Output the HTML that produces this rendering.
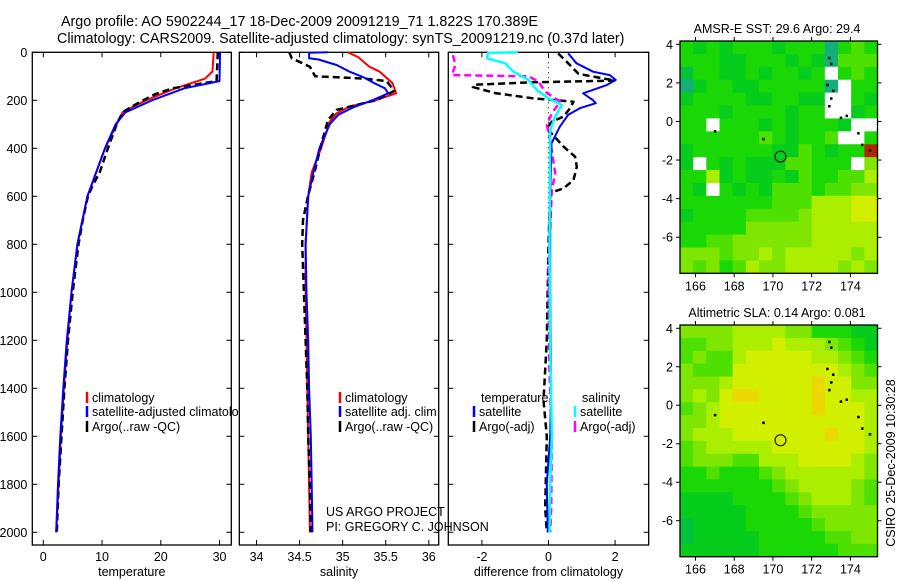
<!DOCTYPE html>
<html><head><meta charset="utf-8"><style>
body{margin:0;background:#fff;}
svg{display:block;font-family:"Liberation Sans",sans-serif;}
text{font-size:12.5px;fill:#000;}
text.ttl{font-size:14.3px;}
</style></head><body>
<svg id="fig" width="900" height="580" viewBox="0 0 900 580">
<defs><clipPath id="clip1"><rect x="32" y="52" width="207" height="494"/></clipPath></defs>
<text class="ttl" x="61" y="26">Argo profile: AO 5902244_17 18-Dec-2009 20091219_71 1.822S 170.389E</text>
<text class="ttl" x="57" y="43">Climatology: CARS2009. Satellite-adjusted climatology: synTS_20091219.nc (0.37d later)</text>
</svg>
<script>
// ---- temperature panel data ----
const tClimDepth=[0,80,110,150,200,230,250,300,400,500,600,800,1000,1200,1400,1600,1800,2000];
const tClimVal=[29.0,28.8,27.5,22.5,17.5,15,13.5,12.5,10.5,9,7.5,5.8,4.8,4.1,3.5,3.0,2.6,2.2];
const tSatDepth=[0,120,150,200,250,300,400,500,600,800,1000,1200,1400,1600,1800,2000];
const tSatVal=[30.1,30.0,24,18.5,14,12.3,10.5,9,7.5,5.8,4.8,4.0,3.4,2.9,2.5,2.2];
const tArgoDepth=[0,120,130,150,175,200,220,250,300,400,500,560,600,700,800,1000,1200,1400,1600,1800,2000];
const tArgoVal=[29.7,29.5,27,22,19,17,15.5,13.5,12.5,11,9.6,8.3,7.6,6.7,6.0,5.0,4.2,3.6,3.1,2.6,2.3];
// ---- salinity panel data ----
const sClimDepth=[0,20,60,81,129,171,199,226,254,289,400,500,600,800,1000,1200,1400,1600,1800,2000];
const sClimVal=[35.06,35.18,35.31,35.43,35.58,35.62,35.39,35.08,34.93,34.85,34.75,34.64,34.6,34.57,34.57,34.58,34.59,34.6,34.61,34.62];
const sSatDepth=[0,2,25,30,53,81,102,129,150,171,199,230,260,300,400,500,600,800,1000,1200,1400,1600,1800,2000];
const sSatVal=[34.83,34.61,34.61,34.72,34.93,35.08,35.23,35.37,35.49,35.53,35.35,35.12,34.95,34.85,34.73,34.66,34.6,34.57,34.58,34.6,34.61,34.63,34.64,34.65];
const sArgoDepth=[0,25,60,100,103,110,120,161,199,240,282,386,490,595,699,800,1000,1200,1400,1600,1800,2000];
const sArgoVal=[34.38,34.41,34.62,34.68,34.88,35.27,35.51,35.6,35.39,34.93,34.83,34.75,34.68,34.6,34.54,34.53,34.55,34.57,34.59,34.6,34.62,34.63];
// ---- difference panel data ----
const dTSatDepth=[4,46,81,95,115,137,171,199,212,233,261,310,379,600,1000,1400,1600,1800,2000];
const dTSatVal=[0.59,0.84,1.34,1.84,2.02,1.74,1.04,1.33,1.42,0.94,0.59,0.34,0.09,0.05,0.05,0.08,0.05,-0.05,-0.02];
const dTArgoDepth=[5,40,90,118,125,135,145,170,192,206,233,268,289,316,393,435,477,532,567,586,800,1200,1450,1600,1900,2000];
const dTArgoVal=[0.29,0.55,0.9,2.0,-0.5,-2.2,-2.27,-1.6,-0.45,0.75,0.65,0.45,0.1,-0.05,0.45,0.8,0.85,0.75,0.45,0.05,0.0,-0.05,-0.15,-0.05,-0.1,-0.05];
const dSSatDepth=[0,2,25,46,81,115,157,192,220,268,324,800,1200,1600,1800,2000];
const dSSatVal=[-0.92,-1.81,-1.85,-1.3,-1.05,-0.6,-0.35,0.0,0.4,0.2,0.05,0.03,0.05,0.1,0.05,0.03];
const dSArgoDepth=[12,53,95,100,122,164,206,254,303,366,505,574,900,1300,1600,1900,2000];
const dSArgoVal=[-2.87,-2.8,-2.9,-0.6,-0.3,-0.1,0.35,0.1,-0.05,0.05,0.2,0.1,0.0,0.02,0.1,0.08,0.05];
// ---- axis ticks ----
const depthTicks=[0,200,400,600,800,1000,1200,1400,1600,1800,2000];
const tempTicks=[0,10,20,30];
const salTicks=[34,34.5,35,35.5,36];
const salTickLabels=["34","34.5","35","35.5","36"];
const diffTicks=[-2,0,2];
const lonTicks=[166,168,170,172,174];
const latTicks=[4,2,0,-2,-4,-6];
// ---- map grids (digit = colour level, w = missing, r = hot) ----
const sstGrid=["323233323330343","333223332320444","13322323323w343","023322333330w33","23333223322ww32","33323333233ww23","33w3332323332ww","333333432334ww3","23333332243233r","2w32322244333w5","336232232433446","32w323244434455","333333344466677","233334444566677","333335555566666","334455555566666","555455656666656","545346556666565"];
const slaGrid=["555566665533322","445566676665432","454467777766543","544477777777654","555677777787755","565788777787766","456777777787776","556777777777776","566677777778776","456666677777776","455544666777765","334333456666665","333333345666654","222233334566654","222223333455555","122223333345555","122222333334455","222222333333444"];
const palette={"0":"#14b07a","1":"#00c23c","2":"#06cc1c","3":"#1ad806","4":"#4ee000","5":"#7ee600","6":"#acee00","7":"#d2ef00","8":"#ead800","w":"#ffffff","r":"#b02800"};
const coastLon=[172.9,173.0,172.8,173.1,173.0,172.9,173.5,173.8,174.4,174.6,175.0,169.5,167.0];
const coastLat=[3.3,3.0,1.9,1.6,1.2,0.8,0.2,0.3,-0.6,-1.2,-1.5,-0.9,-0.5];
const argoLon=170.39, argoLat=-1.82;

const NS="http://www.w3.org/2000/svg";
const svg=document.getElementById('fig');
function mk(tag,attrs,parent){const e=document.createElementNS(NS,tag);for(const k in attrs)e.setAttribute(k,attrs[k]);(parent||svg).appendChild(e);return e;}

const Y0=52.3,Y1=545;
function yD(d){return Y0+d*0.24;}
const panels=[
 {name:'temperature',x0:32.3,x1:231.3,min:-1.87,max:32.0,ticks:tempTicks,labels:tempTicks.map(String),label:'temperature',ylabels:true},
 {name:'salinity',x0:239.3,x1:438.7,min:33.8,max:36.115,ticks:salTicks,labels:salTickLabels,label:'salinity',ylabels:false},
 {name:'difference',x0:448.3,x1:648.7,min:-3.01,max:3.01,ticks:diffTicks,labels:diffTicks.map(String),label:'difference from climatology',ylabels:false}
];
panels.forEach(p=>{p.sx=v=>p.x0+(v-p.min)/(p.max-p.min)*(p.x1-p.x0);});

function series(p,depths,vals,color,dash,w,name){
  const pts=depths.map((d,i)=>p.sx(vals[i]).toFixed(1)+','+yD(d).toFixed(1)).join(' ');
  const el=mk('polyline',{points:pts,fill:'none',stroke:color,'stroke-width':w,'stroke-linejoin':'round'});
  if(dash)el.setAttribute('stroke-dasharray',dash);
  
  
}

panels.forEach(p=>{
  const g=mk('g',{});
  
  
  mk('rect',{x:p.x0,y:Y0,width:p.x1-p.x0,height:Y1-Y0,fill:'#fff',stroke:'#000','stroke-width':1.3},g);
  depthTicks.forEach(d=>{
    const y=yD(d);
    mk('line',{x1:p.x0,y1:y,x2:p.x0+5,y2:y,stroke:'#000'},g);
    mk('line',{x1:p.x1,y1:y,x2:p.x1-5,y2:y,stroke:'#000'},g);
    if(p.ylabels){const t=mk('text',{x:p.x0-5,y:y+4.5,'text-anchor':'end'},g);t.textContent=d;
      
      }
  });
  p.ticks.forEach((v,i)=>{
    const x=p.sx(v);
    mk('line',{x1:x,y1:Y0,x2:x,y2:Y0+5,stroke:'#000'},g);
    mk('line',{x1:x,y1:Y1,x2:x,y2:Y1-5,stroke:'#000'},g);
    const t=mk('text',{x:x,y:561,'text-anchor':'middle'},g);t.textContent=p.labels[i];
    
    
  });
  const t=mk('text',{x:(p.x0+p.x1)/2,y:576,'text-anchor':'middle'},g);t.textContent=p.label;
  
  
});
const [pT,pS,pD]=panels;
series(pT,tClimDepth,tClimVal,'#f00',null,2,'temp-climatology-line');
series(pT,tArgoDepth,tArgoVal,'#000','7,4',2.5,'temp-argo-line');
series(pT,tSatDepth,tSatVal,'#00f',null,2,'temp-satellite-line');
series(pS,sClimDepth,sClimVal,'#f00',null,2,'sal-climatology-line');
series(pS,sArgoDepth,sArgoVal,'#000','7,4',2.5,'sal-argo-line');
series(pS,sSatDepth,sSatVal,'#00f',null,2,'sal-satellite-line');
mk('line',{x1:pD.sx(0),y1:Y0,x2:pD.sx(0),y2:yD(1000),stroke:'#000','stroke-dasharray':'1,4'});
series(pD,dTArgoDepth,dTArgoVal,'#000','7,4',2.5,'diff-temp-argo-line');
series(pD,dSArgoDepth,dSArgoVal,'#f0f','7,4',2.5,'diff-sal-argo-line');
series(pD,dTSatDepth,dTSatVal,'#00f',null,2,'diff-temp-satellite-line');
series(pD,dSSatDepth,dSSatVal,'#0ff',null,2.5,'diff-sal-satellite-line');

function legend(x,y,color,label,name,clip){
  const g=mk('g',{});
  
  
  if(clip)g.setAttribute('clip-path','url(#clip1)');
  mk('line',{x1:x,y1:y-10,x2:x,y2:y+1,stroke:color,'stroke-width':2.5},g);
  const t=mk('text',{x:x+5,y:y},g);t.textContent=label;
}
legend(87,402,'#f00','climatology','legend-climatology',true);
legend(87,416,'#00f','satellite-adjusted climatology','legend-satellite-adjusted',true);
legend(87,431,'#000','Argo(..raw -QC)','legend-argo-raw',true);
legend(340,402,'#f00','climatology','legend-sal-climatology');
legend(340,416,'#00f','satellite adj. clim.','legend-sal-satellite');
legend(340,431,'#000','Argo(..raw -QC)','legend-sal-argo');
(function(){const t=mk('text',{x:481,y:402});t.textContent='temperature';


const t2=mk('text',{x:582,y:402});t2.textContent='salinity';

})();
legend(474,416,'#00f','satellite','legend-diff-temp-satellite');
legend(474,431,'#000','Argo(-adj)','legend-diff-temp-argo');
legend(575,416,'#0ff','satellite','legend-diff-sal-satellite');
legend(575,431,'#f0f','Argo(-adj)','legend-diff-sal-argo');
(function(){const t=mk('text',{x:326,y:516});t.textContent='US ARGO PROJECT';


const t2=mk('text',{x:326,y:531});t2.textContent='PI: GREGORY C. JOHNSON';

})();

// ---- maps ----
function drawMap(top,bottom,grid,title,name,latTop,latBot){
  const x0=680,x1=877.5,lonMin=165.2,lonMax=175.4;
  const sx=l=>x0+(l-lonMin)/(lonMax-lonMin)*(x1-x0);
  const sy=l=>top+(latTop-l)/(latTop-latBot)*(bottom-top);
  const g=mk('g',{});
  
  
  const rows=grid.length,cols=grid[0].length;
  const cw=(x1-x0)/cols,ch=(bottom-top)/rows;
  for(let r=0;r<rows;r++)for(let c=0;c<cols;c++){
    const cell=mk('rect',{x:(x0+c*cw).toFixed(2),y:(top+r*ch).toFixed(2),width:(cw+0.6).toFixed(2),height:(ch+0.6).toFixed(2),fill:palette[grid[r][c]]},g);
    
    
  }
  coastLon.forEach((l,i)=>{mk('rect',{x:sx(l)-1,y:sy(coastLat[i])-1,width:2.5,height:2.5,fill:'#000'},g);});
  const m=mk('circle',{cx:sx(argoLon),cy:sy(argoLat),r:5.5,fill:'none',stroke:'#000','stroke-width':1},g);
  
  
  mk('rect',{x:x0,y:top,width:x1-x0,height:bottom-top,fill:'none',stroke:'#000','stroke-width':1.3},g);
  latTicks.forEach(v=>{const y=sy(v);
    mk('line',{x1:x0,y1:y,x2:x0-4,y2:y,stroke:'#000'},g);
    mk('line',{x1:x1,y1:y,x2:x1+4,y2:y,stroke:'#000'},g);
    const t=mk('text',{x:x0-7,y:y+4.5,'text-anchor':'end'},g);t.textContent=v;
    
    });
  lonTicks.forEach(v=>{const x=sx(v);
    mk('line',{x1:x,y1:top,x2:x,y2:top-4,stroke:'#000'},g);
    mk('line',{x1:x,y1:bottom,x2:x,y2:bottom+4,stroke:'#000'},g);
    const t=mk('text',{x:x,y:bottom+17,'text-anchor':'middle'},g);t.textContent=v;
    
    });
  const t=mk('text',{x:777,y:top-8,'text-anchor':'middle'},g);t.textContent=title;
  
  
}
drawMap(41,273.3,sstGrid,'AMSR-E SST: 29.6 Argo: 29.4','sst-map',4.17,-7.87);
drawMap(325,556.7,slaGrid,'Altimetric SLA: 0.14 Argo: 0.081','sla-map',4.17,-7.87);
(function(){const t=mk('text',{x:0,y:0,'text-anchor':'middle',transform:'translate(895,463) rotate(-90)'});
t.textContent='CSIRO 25-Dec-2009 10:30:28';

})();
</script>
</body></html>
